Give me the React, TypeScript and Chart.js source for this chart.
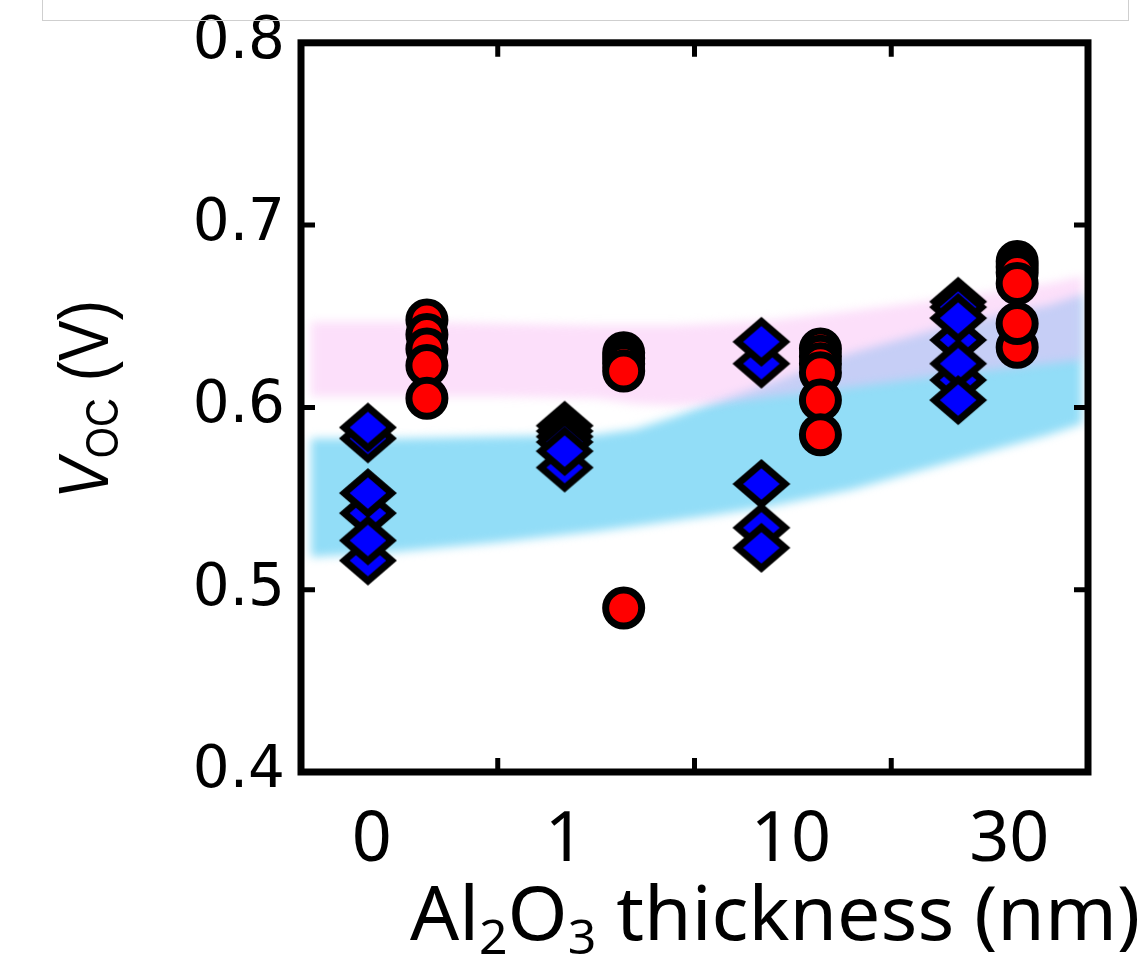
import React, { useEffect, useRef } from "react";
import { Chart, registerables } from "chart.js";

Chart.register(...registerables);

// ---------- data ----------
const categories = ["0", "1", "10", "30"];

// blue diamonds (per thickness group, in drawing order)
const blueVoc: number[][] = [
  [0.516, 0.542, 0.527, 0.553, 0.583, 0.589],
  [0.567, 0.590, 0.587, 0.584, 0.581, 0.576],
  [0.624, 0.636, 0.534, 0.523, 0.558],
  [0.637, 0.615, 0.658, 0.655, 0.649, 0.624, 0.604],
];

// red circles (per thickness group, in drawing order)
const redVoc: number[][] = [
  [0.648, 0.640, 0.632, 0.623, 0.605],
  [0.630, 0.627, 0.624, 0.620, 0.490],
  [0.632, 0.628, 0.624, 0.619, 0.604, 0.585],
  [0.680, 0.677, 0.674, 0.668, 0.633, 0.646],
];

const yTickValues = [0.4, 0.5, 0.6, 0.7, 0.8];

// shaded bands
const bandX = [0.05, 0.5, 1.0, 1.5, 1.7, 1.9, 2.1, 2.4, 2.8, 3.3, 3.8, 3.97];
const pinkUpper = [0.647, 0.647, 0.646, 0.645, 0.645, 0.645, 0.646, 0.648, 0.653, 0.660, 0.668, 0.672];
const pinkLower = [0.606, 0.606, 0.606, 0.605, 0.602, 0.601, 0.602, 0.606, 0.611, 0.618, 0.624, 0.626];
const blueUpper = [0.583, 0.583, 0.584, 0.585, 0.588, 0.595, 0.603, 0.614, 0.630, 0.645, 0.656, 0.662];
const blueLower = [0.518, 0.521, 0.526, 0.532, 0.535, 0.538, 0.541, 0.546, 0.555, 0.570, 0.585, 0.591];

// ---------- layout constants ----------
const BLUE_OFFSET = 0.34;
const RED_OFFSET = 0.64;
const LABEL_POS = [0.36, 1.34, 2.49, 3.6];
const INNER_X_TICKS = [1, 2, 3];
const INNER_Y_TICKS = [0.5, 0.6, 0.7];

function makeDiamond(): HTMLCanvasElement {
  const a = 29, b = 25, t = 7;
  const c = document.createElement("canvas");
  c.width = 2 * a + 2;
  c.height = 2 * b + 2;
  const g = c.getContext("2d")!;
  const cx = a + 1, cy = b + 1;
  const path = (ha: number, hb: number) => {
    g.beginPath();
    g.moveTo(cx - ha, cy);
    g.lineTo(cx, cy - hb);
    g.lineTo(cx + ha, cy);
    g.lineTo(cx, cy + hb);
    g.closePath();
  };
  path(a, b);
  g.fillStyle = "#000000";
  g.fill();
  const k = 1 - t / ((a * b) / Math.hypot(a, b));
  path(a * k, b * k);
  g.fillStyle = "#0000ff";
  g.fill();
  return c;
}

const bandPlugin = {
  id: "bands",
  beforeDatasetsDraw(chart: any) {
    const { ctx, chartArea, scales } = chart;
    const xs = scales.x, ys = scales.y;
    const drawBand = (up: number[], lo: number[], color: string) => {
      ctx.beginPath();
      bandX.forEach((xv, i) => {
        const px = xs.getPixelForValue(xv);
        const py = ys.getPixelForValue(up[i]);
        if (i === 0) ctx.moveTo(px, py);
        else ctx.lineTo(px, py);
      });
      for (let i = bandX.length - 1; i >= 0; i--) {
        ctx.lineTo(xs.getPixelForValue(bandX[i]), ys.getPixelForValue(lo[i]));
      }
      ctx.closePath();
      ctx.fillStyle = color;
      ctx.fill();
    };
    ctx.save();
    ctx.beginPath();
    ctx.rect(chartArea.left, chartArea.top, chartArea.right - chartArea.left, chartArea.bottom - chartArea.top);
    ctx.clip();
    ctx.filter = "blur(5px)";
    drawBand(blueUpper, blueLower, "rgb(146,221,247)");
    drawBand(pinkUpper, pinkLower, "rgba(249,192,245,0.5)");
    ctx.restore();
  },
};

const framePlugin = {
  id: "frame",
  afterDraw(chart: any) {
    const { ctx, chartArea, scales } = chart;
    const { left, right, top, bottom } = chartArea;
    ctx.save();
    ctx.strokeStyle = "#000";
    ctx.lineWidth = 7;
    ctx.lineJoin = "miter";
    ctx.strokeRect(left, top, right - left, bottom - top);
    ctx.lineWidth = 5;
    const tl = 14;
    INNER_X_TICKS.forEach((v) => {
      const px = scales.x.getPixelForValue(v);
      ctx.beginPath();
      ctx.moveTo(px, bottom);
      ctx.lineTo(px, bottom - tl);
      ctx.moveTo(px, top);
      ctx.lineTo(px, top + tl);
      ctx.stroke();
    });
    INNER_Y_TICKS.forEach((v) => {
      const py = scales.y.getPixelForValue(v);
      ctx.beginPath();
      ctx.moveTo(left, py);
      ctx.lineTo(left + tl, py);
      ctx.moveTo(right, py);
      ctx.lineTo(right - tl, py);
      ctx.stroke();
    });

    // y-axis title: V_OC (V)
    ctx.fillStyle = "#000";
    ctx.textBaseline = "alphabetic";
    ctx.textAlign = "left";
    const bigI = "italic 70px 'Liberation Sans', Arial, sans-serif";
    const big = "70px 'Liberation Sans', Arial, sans-serif";
    const small = "46px 'Liberation Sans', Arial, sans-serif";
    ctx.font = bigI;
    const wV = ctx.measureText("V").width;
    ctx.font = big;
    const wRest = ctx.measureText(" (V)").width;
    ctx.font = small;
    const wOC = ctx.measureText("OC").width;
    const sx = 0.87;
    const total = (wV + wOC + wRest) * sx;
    const cy = (top + bottom) / 2 - 8;
    ctx.save();
    ctx.translate(108, cy + total / 2);
    ctx.rotate(-Math.PI / 2);
    ctx.scale(sx, 1);
    ctx.font = bigI;
    ctx.fillText("V", 0, 0);
    ctx.font = small;
    ctx.fillText("OC", wV, 10);
    ctx.font = big;
    ctx.fillText(" (V)", wV + wOC, 0);
    ctx.restore();

    // x-axis title: Al2O3 thickness (nm)
    const xb = "74px 'Noto Sans', 'Open Sans', sans-serif";
    const xsm = "48px 'Noto Sans', 'Open Sans', sans-serif";
    const parts: [string, boolean][] = [["Al", false], ["2", true], ["O", false], ["3", true], [" thickness (nm)", false]];
    let w = 0;
    parts.forEach(([t, sub]) => {
      ctx.font = sub ? xsm : xb;
      w += ctx.measureText(t).width;
    });
    const sxx = 730 / w;
    ctx.save();
    ctx.translate(410, 940);
    ctx.scale(sxx, 1);
    let cx = 0;
    parts.forEach(([t, sub]) => {
      ctx.font = sub ? xsm : xb;
      ctx.fillText(t, cx, sub ? 14 : 0);
      cx += ctx.measureText(t).width;
    });
    ctx.restore();
    ctx.restore();
  },
};

export default function App() {
  const canvasRef = useRef<HTMLCanvasElement | null>(null);

  useEffect(() => {
    if (!canvasRef.current) return;
    const diamond = makeDiamond();
    const bluePts = blueVoc.flatMap((arr, gi) => arr.map((v) => ({ x: gi + BLUE_OFFSET, y: v })));
    const redPts = redVoc.flatMap((arr, gi) => arr.map((v) => ({ x: gi + RED_OFFSET, y: v })));

    const chart = new Chart(canvasRef.current, {
      type: "scatter",
      data: {
        datasets: [
          {
            label: "diamond",
            data: bluePts,
            pointStyle: diamond as any,
            pointRadius: 26,
            backgroundColor: "#0000ff",
            borderColor: "#000",
          },
          {
            label: "circle",
            data: redPts,
            pointStyle: "circle",
            pointRadius: 18,
            borderWidth: 7,
            backgroundColor: "#ff0000",
            borderColor: "#000",
          },
        ],
      },
      options: {
        animation: false,
        responsive: false,
        devicePixelRatio: 1,
        events: [],
        layout: { padding: { left: 0, right: 58, top: 42, bottom: 0 } },
        plugins: {
          legend: { display: false },
          tooltip: { enabled: false },
        },
        scales: {
          x: {
            type: "linear",
            min: 0,
            max: 4,
            grid: { display: false },
            border: { display: false },
            afterBuildTicks: (scale: any) => {
              scale.ticks = LABEL_POS.map((v) => ({ value: v }));
            },
            afterFit: (scale: any) => {
              scale.height = 183;
            },
            ticks: {
              autoSkip: false,
              maxRotation: 0,
              padding: 19,
              color: "#000",
              font: { family: "'Liberation Sans Narrow', 'Noto Sans', sans-serif", size: 70 },
              callback: (_v: any, i: number) => categories[i],
            },
          },
          y: {
            type: "linear",
            min: 0.4,
            max: 0.8,
            grid: { display: false },
            border: { display: false },
            afterBuildTicks: (scale: any) => {
              scale.ticks = yTickValues.map((v) => ({ value: v }));
            },
            afterFit: (scale: any) => {
              scale.width = 301;
            },
            ticks: {
              padding: 8,
              color: "#000",
              font: { family: "'DejaVu Sans', 'Liberation Sans', sans-serif", size: 58 },
              callback: (v: any) => Number(v).toFixed(1),
            },
          },
        },
      },
      plugins: [bandPlugin, framePlugin],
    });
    return () => chart.destroy();
  }, []);

  return (
    <div style={{ position: "fixed", left: 0, top: 0, width: 1146, height: 955, background: "#fff", overflow: "hidden" }}>
      <canvas ref={canvasRef} width={1146} height={955} style={{ position: "absolute", left: 0, top: 0, width: 1146, height: 955 }} />
      <div
        style={{
          position: "absolute",
          left: 42,
          top: -4,
          width: 1085,
          height: 23,
          border: "1px solid #cfcfcf",
          background: "transparent",
        }}
      />
    </div>
  );
}
